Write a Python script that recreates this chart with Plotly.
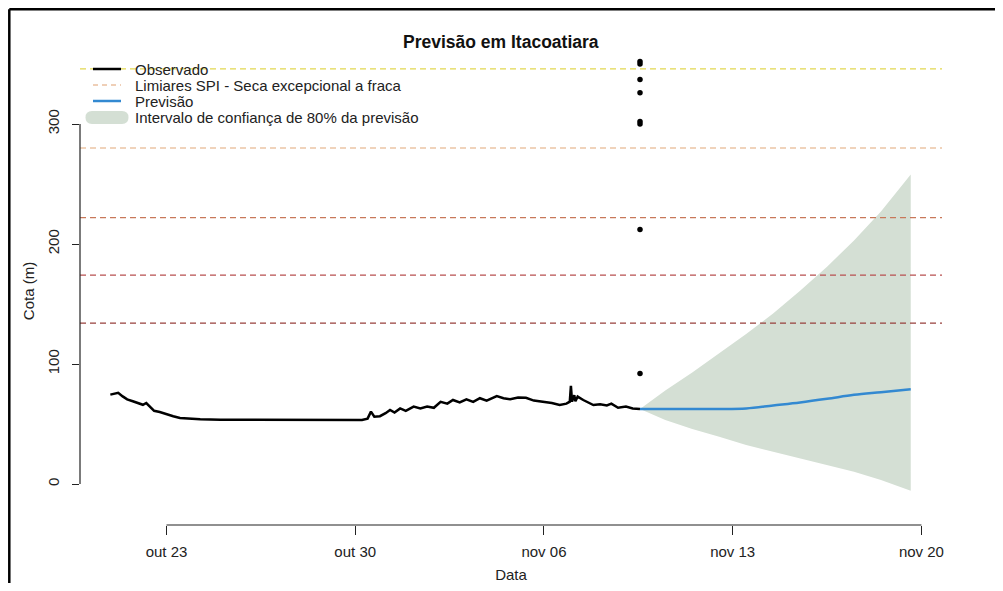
import plotly.graph_objects as go

# dados observados (cota, m)
obs_time = [
    "2023-10-20 22:00", "2023-10-21 02:00", "2023-10-21 05:00", "2023-10-21 09:00",
    "2023-10-21 13:00", "2023-10-21 18:00", "2023-10-21 22:00", "2023-10-22 03:00",
    "2023-10-22 06:00", "2023-10-22 09:00", "2023-10-22 13:00", "2023-10-22 18:00",
    "2023-10-23 00:00", "2023-10-23 06:00", "2023-10-23 12:00", "2023-10-23 20:00",
    "2023-10-24 06:00", "2023-10-25 00:00", "2023-10-25 12:00", "2023-10-26 00:00",
    "2023-10-26 12:00", "2023-10-27 00:00", "2023-10-27 12:00", "2023-10-28 12:00",
    "2023-10-29 12:00", "2023-10-30 06:00", "2023-10-30 11:00", "2023-10-30 14:00",
    "2023-10-30 17:00", "2023-10-30 22:00", "2023-10-31 03:00", "2023-10-31 07:00",
    "2023-10-31 11:00", "2023-10-31 16:00", "2023-10-31 21:00", "2023-11-01 04:00",
    "2023-11-01 10:00", "2023-11-01 16:00", "2023-11-01 22:00", "2023-11-02 04:00",
    "2023-11-02 10:00", "2023-11-02 15:00", "2023-11-02 21:00", "2023-11-03 03:00",
    "2023-11-03 09:00", "2023-11-03 15:00", "2023-11-03 21:00", "2023-11-04 06:00",
    "2023-11-04 12:00", "2023-11-04 18:00", "2023-11-05 01:00", "2023-11-05 08:00",
    "2023-11-05 15:00", "2023-11-05 23:00", "2023-11-06 07:00", "2023-11-06 14:00",
    "2023-11-06 20:00", "2023-11-06 23:00", "2023-11-07 00:00", "2023-11-07 01:00",
    "2023-11-07 03:00", "2023-11-07 04:00", "2023-11-07 06:00", "2023-11-07 11:00",
    "2023-11-07 16:00", "2023-11-07 20:00", "2023-11-08 02:00", "2023-11-08 08:00",
    "2023-11-08 12:00", "2023-11-08 18:00", "2023-11-09 01:00", "2023-11-09 07:00",
    "2023-11-09 13:30",
]
obs_cota = [
    74.5, 75.5, 76.0, 73.0,
    70.5, 69.0, 67.5, 66.0,
    67.5, 64.5, 61.0, 60.0,
    58.0, 56.5, 55.0, 54.5,
    54.0, 53.5, 53.5, 53.8,
    53.2, 53.6, 53.2, 53.2,
    53.2, 53.3, 54.5, 60.3,
    56.0, 56.5, 59.0, 61.7,
    59.5, 63.0, 61.0, 64.5,
    63.0, 64.5, 63.5, 68.5,
    67.0, 70.0, 68.0, 70.6,
    68.5, 71.5, 69.5, 73.3,
    71.5, 70.6, 72.0, 71.9,
    69.5, 68.6, 67.5, 65.8,
    67.0, 68.6, 81.7, 68.6,
    74.0, 69.0, 72.8, 70.0,
    67.5, 65.8, 66.5, 65.5,
    67.0, 63.5, 64.5, 63.0,
    62.5,
]

# previsao e intervalo de 80%
prev_time = [
    "2023-11-09 13:30", "2023-11-10 12:00", "2023-11-11 12:00", "2023-11-12 12:00",
    "2023-11-13 12:00", "2023-11-14 12:00", "2023-11-15 12:00", "2023-11-16 12:00",
    "2023-11-17 12:00", "2023-11-18 12:00", "2023-11-19 14:30",
]
prev_cota = [62.5, 62.5, 62.5, 62.5, 63.0, 65.5, 68.0, 71.0, 74.3, 76.5, 78.9]
prev_inf = [62.5, 53.3, 45.8, 39.4, 32.5, 27.0, 21.4, 15.8, 10.3, 3.3, -5.6]
prev_sup = [62.5, 78.0, 93.0, 109.0, 125.0, 142.0, 161.0, 181.0, 203.0, 227.0, 258.0]

# pontos isolados na data de emissao
pontos_time = ["2023-11-09 13:30"] * 8
pontos_cota = [352, 350, 337, 326, 302, 300, 212, 92]

# limiares SPI
limiares = [346, 280, 222, 174, 134]
cores_limiares = ["#e2d850", "#e2a878", "#c8785a", "#b85050", "#98403c"]

x_ticks = ["2023-10-23", "2023-10-30", "2023-11-06", "2023-11-13", "2023-11-20"]
x_labels = ["out 23", "out 30", "nov 06", "nov 13", "nov 20"]
y_ticks = [0, 100, 200, 300]

FONT = "Liberation Sans, Arial, sans-serif"
OFF = 8  # margem padrao do body da pagina
W, H = 987, 575
L, R, T, B = 72, 53, 49, 58


def px(x):
    # coordenada de tela -> paper
    return (x - OFF - L) / (W - L - R)


def py(y):
    return (H - B - (y - OFF)) / (H - T - B)


fig = go.Figure()

fig.add_trace(go.Scatter(
    x=prev_time + prev_time[::-1], y=prev_sup + prev_inf[::-1],
    fill="toself", fillcolor="#d4dfd4", line=dict(width=0),
    mode="lines", hoverinfo="skip", showlegend=False
))
fig.add_trace(go.Scatter(
    x=obs_time, y=obs_cota, mode="lines",
    line=dict(color="black", width=2.5), showlegend=False
))
fig.add_trace(go.Scatter(
    x=prev_time, y=prev_cota, mode="lines", line_shape="spline",
    line=dict(color="#3389d1", width=2.5), showlegend=False
))
fig.add_trace(go.Scatter(
    x=pontos_time, y=pontos_cota, mode="markers",
    marker=dict(color="black", size=5.5), showlegend=False
))

shapes = []
for v, c in zip(limiares, cores_limiares):
    shapes.append(dict(type="line", xref="paper", yref="y", x0=0, x1=1, y0=v, y1=v,
                       line=dict(color=c, width=1.2, dash="6px,4px")))

# eixos no estilo R
shapes.append(dict(type="line", xref="paper", yref="y", x0=0, x1=0, y0=0, y1=300,
                   line=dict(color="#222", width=1.2)))
shapes.append(dict(type="line", xref="x", yref="paper", x0=x_ticks[0], x1=x_ticks[-1],
                   y0=0, y1=0, line=dict(color="#222", width=1.2)))

# moldura
shapes.append(dict(type="line", xref="paper", yref="paper", x0=px(9.3), x1=px(9.3),
                   y0=py(9.3), y1=py(591), line=dict(color="black", width=2.5)))
shapes.append(dict(type="line", xref="paper", yref="paper", x0=px(9.3), x1=px(1003),
                   y0=py(9.3), y1=py(9.3), line=dict(color="black", width=2.5)))

# legenda manual
leg_rows = [69, 85, 101, 117]
leg_text = ["Observado", "Limiares SPI - Seca excepcional a fraca", "Previsão",
            "Intervalo de confiança de 80% da previsão"]
shapes.append(dict(type="line", xref="paper", yref="paper", x0=px(93), x1=px(121),
                   y0=py(leg_rows[0]), y1=py(leg_rows[0]), line=dict(color="black", width=2.5)))
shapes.append(dict(type="line", xref="paper", yref="paper", x0=px(93), x1=px(121),
                   y0=py(leg_rows[1]), y1=py(leg_rows[1]),
                   line=dict(color="#e0a070", width=1.2, dash="5px,4px")))
shapes.append(dict(type="line", xref="paper", yref="paper", x0=px(93), x1=px(121),
                   y0=py(leg_rows[2]), y1=py(leg_rows[2]), line=dict(color="#3389d1", width=2.5)))
y0b, y1b, yc = 111, 124, 117.5
blob = (f"M {px(92)},{py(y0b)} L {px(122)},{py(y0b)} "
        f"Q {px(128.5)},{py(y0b)} {px(128.5)},{py(yc)} Q {px(128.5)},{py(y1b)} {px(122)},{py(y1b)} "
        f"L {px(92)},{py(y1b)} Q {px(85.5)},{py(y1b)} {px(85.5)},{py(yc)} "
        f"Q {px(85.5)},{py(y0b)} {px(92)},{py(y0b)} Z")
shapes.append(dict(type="path", xref="paper", yref="paper", path=blob,
                   fillcolor="#d4dfd4", line=dict(width=0)))

annotations = []
for yr, t in zip(leg_rows, leg_text):
    annotations.append(dict(text=t, xref="paper", yref="paper", x=px(133), y=py(yr),
                            xanchor="left", yanchor="middle", showarrow=False,
                            font=dict(size=15, color="#222", family=FONT)))
annotations.append(dict(text="<b>Previsão em Itacoatiara</b>", xref="paper", yref="paper",
                        x=px(501), y=py(42), xanchor="center", yanchor="middle",
                        showarrow=False, font=dict(size=17.5, color="#111", family=FONT)))

fig.update_layout(
    width=W, height=H,
    margin=dict(l=L, r=R, t=T, b=B),
    plot_bgcolor="white", paper_bgcolor="white",
    font=dict(family=FONT, size=15, color="#222"),
    showlegend=False,
    shapes=shapes,
    annotations=annotations,
    xaxis=dict(
        range=["2023-10-19 19:00", "2023-11-20 18:20"],
        tickvals=x_ticks, ticktext=x_labels, automargin=False,
        ticks="outside", ticklen=9, tickcolor="#222", tickwidth=1.2,
        ticklabelstandoff=4,
        showgrid=False, zeroline=False, showline=False,
        title=dict(text="Data", standoff=11, font=dict(size=15)),
        tickfont=dict(size=15),
    ),
    yaxis=dict(
        range=[-34.17, 355.83],
        tickvals=y_ticks, tickangle=-90, automargin=False,
        ticks="outside", ticklen=7, tickcolor="#222", tickwidth=1.2,
        ticklabelstandoff=7,
        showgrid=False, zeroline=False, showline=False,
        title=dict(text="Cota (m)", standoff=6, font=dict(size=15)),
        tickfont=dict(size=15),
    ),
)

fig.write_html("out.html")
